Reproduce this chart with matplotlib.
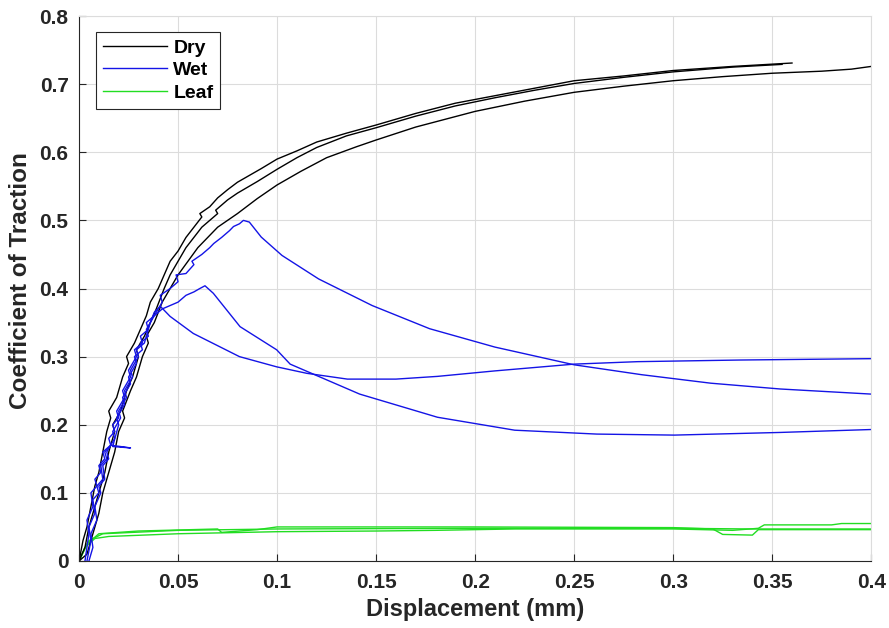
import matplotlib.pyplot as plt

plt.rcParams['font.family'] = ['Liberation Sans', 'DejaVu Sans']
plt.rcParams['font.weight'] = 'bold'

# Dry runs (black)
dry1_x = [0, 0.002, 0.004, 0.006, 0.008, 0.010, 0.012, 0.014, 0.016, 0.015, 0.019, 0.022, 0.025, 0.024,
          0.028, 0.031, 0.034, 0.036, 0.040, 0.043, 0.046, 0.050, 0.054, 0.058, 0.062, 0.061, 0.066,
          0.070, 0.075, 0.080, 0.086, 0.092, 0.100, 0.110, 0.120, 0.135, 0.150, 0.170, 0.190, 0.210,
          0.230, 0.250, 0.275, 0.300, 0.330, 0.360]
dry1_y = [0, 0.03, 0.05, 0.08, 0.11, 0.13, 0.16, 0.19, 0.21, 0.22, 0.24, 0.27, 0.29, 0.30,
          0.32, 0.34, 0.36, 0.38, 0.40, 0.42, 0.44, 0.455, 0.475, 0.49, 0.505, 0.51, 0.52,
          0.533, 0.545, 0.556, 0.566, 0.576, 0.590, 0.602, 0.615, 0.628, 0.640, 0.657, 0.672, 0.683,
          0.694, 0.705, 0.712, 0.720, 0.726, 0.731]

dry2_x = [0, 0.003, 0.005, 0.008, 0.010, 0.013, 0.015, 0.018, 0.017, 0.021, 0.024, 0.027, 0.030,
          0.029, 0.033, 0.036, 0.039, 0.043, 0.046, 0.050, 0.054, 0.058, 0.062, 0.066, 0.070, 0.069,
          0.075, 0.080, 0.090, 0.100, 0.110, 0.120, 0.135, 0.150, 0.170, 0.190, 0.210, 0.230, 0.250,
          0.275, 0.300, 0.330, 0.355]
dry2_y = [0, 0.02, 0.05, 0.08, 0.10, 0.13, 0.16, 0.19, 0.20, 0.22, 0.25, 0.27, 0.30,
          0.31, 0.33, 0.35, 0.37, 0.40, 0.42, 0.44, 0.46, 0.475, 0.49, 0.50, 0.51, 0.515,
          0.53, 0.54, 0.557, 0.575, 0.592, 0.607, 0.624, 0.636, 0.653, 0.668, 0.680, 0.691, 0.701,
          0.710, 0.718, 0.725, 0.729]

dry3_x = [0, 0.004, 0.007, 0.010, 0.012, 0.015, 0.018, 0.020, 0.023, 0.022, 0.026, 0.029, 0.032,
          0.035, 0.034, 0.038, 0.042, 0.046, 0.050, 0.055, 0.060, 0.065, 0.070, 0.075, 0.080, 0.090,
          0.100, 0.112, 0.125, 0.140, 0.150, 0.170, 0.200, 0.225, 0.250, 0.275, 0.300, 0.325, 0.350,
          0.375, 0.390, 0.400]
dry3_y = [0, 0.01, 0.04, 0.07, 0.10, 0.13, 0.16, 0.19, 0.21, 0.22, 0.25, 0.27, 0.30,
          0.32, 0.33, 0.35, 0.38, 0.40, 0.42, 0.44, 0.46, 0.475, 0.49, 0.50, 0.51, 0.532,
          0.552, 0.572, 0.592, 0.608, 0.618, 0.637, 0.660, 0.675, 0.688, 0.697, 0.705, 0.711, 0.716,
          0.719, 0.722, 0.726]

# Wet runs (blue)
wet1_x = [0.004, 0.006, 0.005, 0.008, 0.007, 0.010, 0.009, 0.012, 0.011, 0.014, 0.013, 0.016,
          0.015, 0.018, 0.017, 0.020, 0.019, 0.023, 0.022, 0.026, 0.025, 0.029, 0.028, 0.032,
          0.031, 0.035, 0.034, 0.038, 0.042, 0.041, 0.046, 0.050, 0.049, 0.054, 0.058, 0.057,
          0.062, 0.066, 0.068, 0.072, 0.076, 0.078, 0.081, 0.083, 0.086, 0.092, 0.1025, 0.121,
          0.148, 0.177, 0.210, 0.250, 0.284, 0.319, 0.354, 0.400]
wet1_y = [0, 0.03, 0.05, 0.07, 0.09, 0.10, 0.11, 0.12, 0.14, 0.15, 0.16, 0.17,
          0.18, 0.19, 0.20, 0.21, 0.22, 0.24, 0.25, 0.27, 0.28, 0.30, 0.31, 0.32,
          0.33, 0.34, 0.35, 0.36, 0.38, 0.39, 0.40, 0.41, 0.42, 0.422, 0.435, 0.44,
          0.45, 0.46, 0.466, 0.475, 0.485, 0.491, 0.495, 0.500, 0.4975, 0.4755, 0.4485, 0.414,
          0.375, 0.341, 0.314, 0.288, 0.2735, 0.261, 0.2525, 0.245]

wet2_x = [0.003, 0.005, 0.004, 0.007, 0.006, 0.009, 0.008, 0.011, 0.010, 0.013, 0.012, 0.016,
          0.026, 0.017, 0.020, 0.019, 0.023, 0.022, 0.026, 0.025, 0.029, 0.028, 0.032, 0.031,
          0.035, 0.034, 0.038, 0.042, 0.046, 0.050, 0.054, 0.058, 0.061, 0.0636, 0.0678,
          0.0813, 0.0998, 0.1066, 0.1417, 0.181, 0.220, 0.2614, 0.3006, 0.354, 0.400]
wet2_y = [0, 0.04, 0.06, 0.08, 0.10, 0.11, 0.12, 0.13, 0.14, 0.15, 0.16, 0.17,
          0.166, 0.168, 0.20, 0.21, 0.23, 0.24, 0.26, 0.27, 0.29, 0.30, 0.31, 0.32,
          0.33, 0.34, 0.36, 0.37, 0.375, 0.38, 0.39, 0.395, 0.40, 0.404, 0.393,
          0.344, 0.310, 0.289, 0.245, 0.211, 0.192, 0.1863, 0.1848, 0.1887, 0.193]

wet3_x = [0.005, 0.007, 0.006, 0.009, 0.008, 0.011, 0.010, 0.013, 0.012, 0.015, 0.014, 0.018,
          0.017, 0.021, 0.020, 0.024, 0.023, 0.027, 0.026, 0.030, 0.029, 0.033, 0.036, 0.038,
          0.041, 0.046, 0.0577, 0.081, 0.0998, 0.115, 0.1355, 0.160, 0.181, 0.2098,
          0.250, 0.282, 0.3335, 0.400]
wet3_y = [0, 0.02, 0.04, 0.06, 0.08, 0.10, 0.11, 0.12, 0.14, 0.15, 0.16, 0.18,
          0.19, 0.21, 0.22, 0.24, 0.25, 0.27, 0.28, 0.30, 0.31, 0.32, 0.35, 0.365,
          0.374, 0.359, 0.334, 0.300, 0.285, 0.2755, 0.267, 0.267, 0.271, 0.279,
          0.289, 0.2926, 0.295, 0.297]

# Leaf runs (green)
leaf1_x = [0, 0.003, 0.008, 0.015, 0.050, 0.100, 0.150, 0.180, 0.220, 0.300, 0.330, 0.343,
           0.346, 0.380, 0.385, 0.400]
leaf1_y = [0, 0.020, 0.033, 0.036, 0.040, 0.043, 0.044, 0.045, 0.047, 0.047, 0.045, 0.048,
           0.053, 0.053, 0.055, 0.055]

leaf2_x = [0, 0.004, 0.010, 0.030, 0.070, 0.072, 0.090, 0.100, 0.200, 0.300, 0.320, 0.325,
           0.340, 0.343, 0.400]
leaf2_y = [0, 0.025, 0.040, 0.044, 0.047, 0.042, 0.046, 0.050, 0.050, 0.049, 0.047, 0.039,
           0.038, 0.046, 0.046]

leaf3_x = [0, 0.005, 0.012, 0.050, 0.100, 0.200, 0.300, 0.340, 0.400]
leaf3_y = [0, 0.030, 0.040, 0.045, 0.047, 0.048, 0.048, 0.047, 0.047]

dry_color = 'black'
wet_color = '#1414e6'
leaf_color = '#22dd22'
lw = 1.0

fig = plt.figure(figsize=(8.89, 6.28), dpi=100)
ax = fig.add_axes([0.0889, 0.1067, 0.8911, 0.8678])

ax.plot(leaf1_x, leaf1_y, color=leaf_color, lw=lw)
ax.plot(leaf2_x, leaf2_y, color=leaf_color, lw=lw)
ax.plot(leaf3_x, leaf3_y, color=leaf_color, lw=lw)
ax.plot(dry1_x, dry1_y, color=dry_color, lw=lw, label='Dry')
ax.plot(dry2_x, dry2_y, color=dry_color, lw=lw)
ax.plot(dry3_x, dry3_y, color=dry_color, lw=lw)
ax.plot(wet1_x, wet1_y, color=wet_color, lw=lw, label='Wet')
ax.plot(wet2_x, wet2_y, color=wet_color, lw=lw)
ax.plot(wet3_x, wet3_y, color=wet_color, lw=lw)
ax.plot([], [], color=leaf_color, lw=lw, label='Leaf')

ax.set_xlim(0, 0.4)
ax.set_ylim(0, 0.8)
ax.set_xticks([0, 0.05, 0.1, 0.15, 0.2, 0.25, 0.3, 0.35, 0.4])
ax.set_xticklabels(['0', '0.05', '0.1', '0.15', '0.2', '0.25', '0.3', '0.35', '0.4'])
ax.set_yticks([0, 0.1, 0.2, 0.3, 0.4, 0.5, 0.6, 0.7, 0.8])
ax.set_yticklabels(['0', '0.1', '0.2', '0.3', '0.4', '0.5', '0.6', '0.7', '0.8'])
ax.tick_params(direction='in', length=5, width=0.8, labelsize=15, colors='#262626')
ax.tick_params(axis='x', pad=9)
ax.tick_params(axis='y', pad=7.5)
ax.grid(True, color='#dcdcdc', lw=0.8)
ax.set_axisbelow(True)
for side in ['left', 'bottom']:
    ax.spines[side].set_color('#262626')
    ax.spines[side].set_linewidth(0.8)
for side in ['top', 'right']:
    ax.spines[side].set_color('#dcdcdc')
    ax.spines[side].set_linewidth(0.8)

ax.set_xlabel('Displacement (mm)', fontsize=17, fontweight='bold', color='#262626', labelpad=4)
ax.set_ylabel('Coefficient of Traction', fontsize=17.5, fontweight='bold', color='#262626')
ax.yaxis.set_label_coords(-0.059, 0.515)

leg = ax.legend(loc='upper left', bbox_to_anchor=(0.022, 0.97), fontsize=14, frameon=True,
                fancybox=False, edgecolor='#262626', framealpha=1, handlelength=3.3,
                handletextpad=0.3, labelspacing=0.25, borderpad=0.35, borderaxespad=0)
leg.get_frame().set_linewidth(0.8)

fig.savefig('out.png', dpi=100)
